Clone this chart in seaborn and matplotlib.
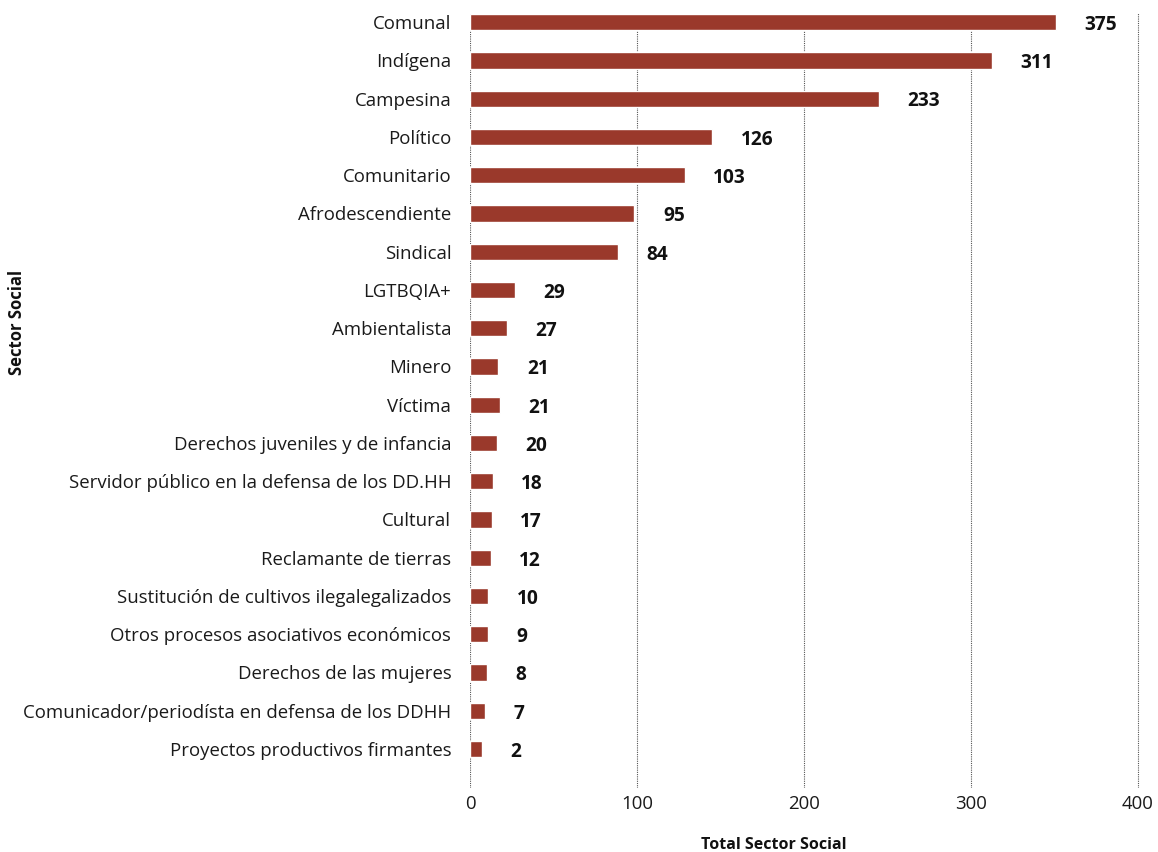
import matplotlib
matplotlib.use("Agg")
import matplotlib.pyplot as plt
import seaborn as sns
import pandas as pd

sectors = [
    "Comunal", "Indígena", "Campesina", "Político", "Comunitario",
    "Afrodescendiente", "Sindical", "LGTBQIA+", "Ambientalista", "Minero",
    "Víctima", "Derechos juveniles y de infancia",
    "Servidor público en la defensa de los DD.HH", "Cultural",
    "Reclamante de tierras", "Sustitución de cultivos ilegalegalizados",
    "Otros procesos asociativos económicos", "Derechos de las mujeres",
    "Comunicador/periodísta en defensa de los DDHH",
    "Proyectos productivos firmantes",
]
bar_values = [351, 312.5, 245, 145, 128.5, 98.5, 88.5, 27, 22, 17,
              18, 16, 13.5, 13, 12.5, 11, 11, 10, 9, 7]
label_values = [375, 311, 233, 126, 103, 95, 84, 29, 27, 21,
                21, 20, 18, 17, 12, 10, 9, 8, 7, 2]
x_ticks = [0, 100, 200, 300, 400]

df = pd.DataFrame({"sector": sectors, "total": bar_values, "label": label_values})

sns.set_theme(style="white")
plt.rcParams["font.family"] = ["Open Sans", "DejaVu Sans"]

fig = plt.figure(figsize=(11.58, 8.52), dpi=100)
ax = fig.add_axes([0.4059, 0.0751, 0.9853 - 0.4059, 0.9847 - 0.0751])

sns.barplot(data=df, x="total", y="sector", orient="h", color="#9a392b",
            saturation=1, width=0.42, ax=ax, zorder=2)

for bar, lab in zip(ax.patches, df["label"]):
    ax.annotate(f"{lab}", xy=(bar.get_width(), bar.get_y() + bar.get_height() / 2),
                xytext=(20.5, -2), textcoords="offset points", ha="left", va="center",
                fontsize=13.8, fontweight="bold", color="#111111")

ax.set_xlim(0, 402)
ax.set_ylim(len(sectors) - 1 + 1.02, -0.24)
ax.set_xticks(x_ticks)
ax.grid(axis="x", color="#555555", linestyle=(0, (1, 1)), linewidth=0.8, zorder=0)
ax.grid(axis="y", visible=False)
for s in ax.spines.values():
    s.set_visible(False)
ax.tick_params(axis="y", length=0, pad=13.5, labelsize=13.4, labelcolor="#1a1a1a")
ax.tick_params(axis="x", length=0, pad=5, labelsize=13.4, labelcolor="#1a1a1a")

ax.set_xlabel("Total Sector Social", fontsize=11.5, fontweight="bold", color="#111111")
ax.set_ylabel("Sector Social", fontsize=12, fontweight="bold", color="#111111")
ax.xaxis.set_label_coords(0.452, -0.063)
ax.yaxis.set_label_coords(-0.662, 0.601)

fig.savefig("out.png", dpi=100)
